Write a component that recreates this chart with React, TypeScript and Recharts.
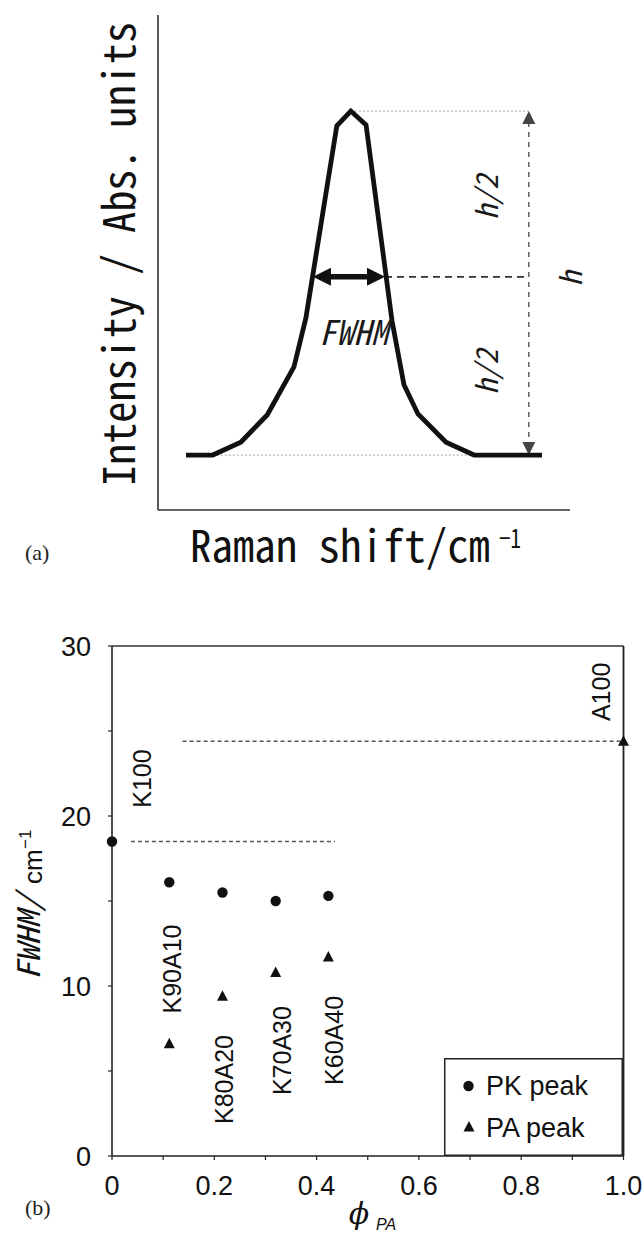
import React from 'react';
import {
  LineChart,
  Line,
  ScatterChart,
  Scatter,
  XAxis,
  YAxis,
  ReferenceLine,
  ReferenceDot,
  Legend,
  Customized,
} from 'recharts';

const MONO = '"Noto Sans Mono CJK JP", "DejaVu Sans Mono", monospace';
const SANS = '"Liberation Sans", Arial, Helvetica, sans-serif';
const SERIF = '"Liberation Serif", "Times New Roman", serif';
const GREEK = '"DejaVu Serif", "Liberation Serif", serif';

// ---------- (a) schematic Raman band, arbitrary units ----------
const ramanShift = [6.8, 13.3, 20.1, 26.5, 33.0, 35.9, 43.4, 46.8, 50.5, 56.8, 59.7, 63.1, 69.9, 76.7, 93.2];
const intensity = [11.1, 11.1, 13.7, 19.2, 28.9, 38.8, 77.6, 80.6, 77.8, 38.2, 25.3, 19.4, 13.7, 11.1, 11.1];

const shiftDomain = [0, 100];
const intensityDomain = [0, 100];
const bandBaseline = 11.1;
const bandPeak = 80.6;
const bandPeakShift = 46.8;
const halfHeightLevel = 47.1;
const fwhmEdges = [37.6, 55.1];
const heightMarkerShift = 90.0;
const baselineGuide = [13.3, 76.7];

// annotation anchors (shift, intensity)
const fwhmTextAnchor = [39.1, 33.3];
const halfLabelShift = 79.4;
const halfLabelLevels = [63.2, 27.9];
const heightLabelAnchor = [99.8, 46.7];

const bandData = ramanShift.map((x, i) => ({ x, y: intensity[i] }));

// ---------- (b) FWHM versus PA volume fraction ----------
const sampleNames = ['K100', 'K90A10', 'K80A20', 'K70A30', 'K60A40', 'A100'];
const phiPA = [0, 0.112, 0.216, 0.32, 0.423, 1.0];
const pkPeakFwhm = [18.5, 16.1, 15.5, 15.0, 15.3]; // K100 … K60A40
const paPeakFwhm = [6.6, 9.4, 10.8, 11.7, 24.4]; // K90A10 … A100

const labelPhi = [0.058, 0.118, 0.219, 0.333, 0.434, 0.956];
const labelFwhm = [22.2, 11.0, 4.5, 6.2, 6.8, 27.3];

const k100Level = 18.5;
const k100GuideRange = [0.037, 0.436];
const a100Level = 24.4;
const a100GuideRange = [0.138, 1.0];

const phiTicks = [0, 0.1, 0.2, 0.3, 0.4, 0.5, 0.6, 0.7, 0.8, 0.9, 1.0];
const fwhmTicks = [0, 5, 10, 15, 20, 25, 30];
const legendOrder = ['PK peak', 'PA peak'];

const pkData = pkPeakFwhm.map((y, i) => ({ x: phiPA[i], y }));
const paData = paPeakFwhm.map((y, i) => ({ x: phiPA[i + 1], y }));
const sampleLabelData = sampleNames.map((name, i) => ({ x: labelPhi[i], y: labelFwhm[i], name }));

// ---------- shapes ----------
function DoubleArrow(props: any) {
  const { x1, y1, x2, y2, stroke, strokeWidth, strokeDasharray, headLength, headWidth, headFill } = props;
  const dx = x2 - x1;
  const dy = y2 - y1;
  const len = Math.hypot(dx, dy) || 1;
  const ux = dx / len;
  const uy = dy / len;
  const px = -uy;
  const py = ux;
  const head = (tx: number, ty: number, dir: number) => {
    const bx = tx - dir * ux * headLength;
    const by = ty - dir * uy * headLength;
    return `${tx},${ty} ${bx + px * headWidth},${by + py * headWidth} ${bx - px * headWidth},${by - py * headWidth}`;
  };
  const inset = headLength * 0.85;
  return (
    <g>
      <line
        x1={x1 + ux * inset}
        y1={y1 + uy * inset}
        x2={x2 - ux * inset}
        y2={y2 - uy * inset}
        stroke={stroke}
        strokeWidth={strokeWidth}
        strokeDasharray={strokeDasharray}
      />
      <polygon points={head(x1, y1, -1)} fill={headFill} />
      <polygon points={head(x2, y2, 1)} fill={headFill} />
    </g>
  );
}

function rotatedLabel(text: string, fontSize: number, family: string, italic: boolean, textLength?: number) {
  return (p: any) => (
    <text
      x={p.cx}
      y={p.cy}
      transform={`rotate(-90 ${p.cx} ${p.cy})`}
      textAnchor="middle"
      dominantBaseline="central"
      fontSize={fontSize}
      fontFamily={family}
      fontStyle={italic ? 'italic' : 'normal'}
      fill="#1a1a1a"
      textLength={textLength}
      lengthAdjust="spacingAndGlyphs"
    >
      {text}
    </text>
  );
}

const PkDot = (p: any) => <circle cx={p.cx} cy={p.cy} r={5.2} fill="#111" />;
const PaTriangle = (p: any) => (
  <polygon points={`${p.cx},${p.cy - 6} ${p.cx - 5.5},${p.cy + 4.5} ${p.cx + 5.5},${p.cy + 4.5}`} fill="#111" />
);
const SampleLabel = (p: any) => (
  <text
    x={p.cx}
    y={p.cy}
    transform={`rotate(-90 ${p.cx} ${p.cy})`}
    textAnchor="middle"
    dominantBaseline="central"
    fontSize={25}
    fontFamily={SANS}
    fill="#111"
  >
    {p.payload.name}
  </text>
);

const PanelATitles = () => (
  <g>
    <text
      x={135}
      y={254}
      transform="rotate(-90 135 254)"
      textAnchor="middle"
      fontSize={44}
      fontFamily={MONO}
      fill="#111"
      textLength={464}
      lengthAdjust="spacingAndGlyphs"
    >
      Intensity / Abs. units
    </text>
    <text x={190} y={562} fontSize={44} fontFamily={MONO} fill="#111" textLength={300} lengthAdjust="spacingAndGlyphs">
      Raman shift/cm
    </text>
    <text x={499} y={548} fontSize={27} fontFamily={MONO} fill="#111" textLength={22} lengthAdjust="spacingAndGlyphs">
      −1
    </text>
    <text x={25} y={560} fontSize={22} fontFamily={SERIF} fill="#222">
      (a)
    </text>
  </g>
);

const PanelBTitles = () => (
  <g>
    <text
      x={40}
      y={360}
      transform="rotate(-90 40 360)"
      fontSize={31}
      fontFamily={MONO}
      fontStyle="italic"
      fill="#111"
      textLength={86}
      lengthAdjust="spacingAndGlyphs"
    >
      FWHM/
    </text>
    <text x={41.5} y={264} transform="rotate(-90 41.5 264)" fontSize={26} fontFamily={SANS} fill="#111">
      cm
    </text>
    <text x={31} y={229} transform="rotate(-90 31 229)" fontSize={17} fontFamily={SANS} fill="#111">
      −1
    </text>
    <text x={359} y={604} textAnchor="middle" fontSize={30} fontFamily={GREEK} fontStyle="italic" fill="#111">
      ϕ
    </text>
    <text x={376} y={610} fontSize={16} fontFamily={SANS} fontStyle="italic" fill="#111">
      PA
    </text>
    <text x={25} y={595} fontSize={22} fontFamily={SERIF} fill="#222">
      (b)
    </text>
  </g>
);

const LegendBox = (props: any) => {
  const items = (props.payload || [])
    .filter((it: any) => it.type !== 'none')
    .sort((a: any, b: any) => legendOrder.indexOf(a.value) - legendOrder.indexOf(b.value));
  return (
    <svg width={179} height={98} style={{ display: 'block' }}>
      <rect x={0.75} y={0.75} width={177.5} height={96.5} fill="#fff" stroke="#222" strokeWidth={1.5} />
      {items.map((it: any, i: number) => {
        const cy = 27 + i * 42;
        return (
          <g key={it.value}>
            {it.type === 'triangle' ? (
              <polygon points={`25,${cy - 6} 19.5,${cy + 4.5} 30.5,${cy + 4.5}`} fill="#111" />
            ) : (
              <circle cx={24.5} cy={cy + 1} r={5.2} fill="#111" />
            )}
            <text x={42} y={cy + 9.5} fontSize={27} fontFamily={SANS} fill="#111">
              {it.value}
            </text>
          </g>
        );
      })}
    </svg>
  );
};

const axisLineStyle = { stroke: '#222', strokeWidth: 1.6 };

export default function App() {
  return (
    <div style={{ position: 'absolute', left: 0, top: 0, width: 642, height: 1236, background: '#fff' }}>
      <div style={{ position: 'absolute', left: 0, top: 0 }}>
        <LineChart width={642} height={620} data={bandData} margin={{ top: 15, right: 72, bottom: 110, left: 158 }}>
          <XAxis type="number" dataKey="x" domain={shiftDomain} hide />
          <YAxis type="number" domain={intensityDomain} hide />
          {/* plain axis lines along the left and bottom of the plot */}
          <ReferenceLine x={shiftDomain[0]} stroke="#333" strokeWidth={1.6} />
          <ReferenceLine y={intensityDomain[0]} stroke="#333" strokeWidth={1.6} />
          <ReferenceLine
            segment={[
              { x: bandPeakShift, y: bandPeak },
              { x: heightMarkerShift, y: bandPeak },
            ]}
            stroke="#b5b5b5"
            strokeWidth={1.2}
            strokeDasharray="2 2"
          />
          <ReferenceLine
            segment={[
              { x: baselineGuide[0], y: bandBaseline },
              { x: baselineGuide[1], y: bandBaseline },
            ]}
            stroke="#b5b5b5"
            strokeWidth={1.2}
            strokeDasharray="2 2"
          />
          <ReferenceLine
            segment={[
              { x: fwhmEdges[1], y: halfHeightLevel },
              { x: heightMarkerShift, y: halfHeightLevel },
            ]}
            stroke="#333"
            strokeWidth={1.6}
            strokeDasharray="7 5"
          />
          <ReferenceLine
            segment={[
              { x: heightMarkerShift, y: bandPeak },
              { x: heightMarkerShift, y: bandBaseline },
            ]}
            shape={(p: any) => (
              <DoubleArrow
                {...p}
                stroke="#666"
                strokeWidth={1.6}
                strokeDasharray="5 5"
                headLength={13}
                headWidth={6.5}
                headFill="#444"
              />
            )}
          />
          <Line
            type="linear"
            dataKey="y"
            stroke="#111"
            strokeWidth={4.8}
            dot={false}
            activeDot={false}
            isAnimationActive={false}
          />
          <ReferenceLine
            segment={[
              { x: fwhmEdges[0], y: halfHeightLevel },
              { x: fwhmEdges[1], y: halfHeightLevel },
            ]}
            shape={(p: any) => (
              <DoubleArrow {...p} stroke="#111" strokeWidth={5.5} headLength={18} headWidth={9} headFill="#111" />
            )}
          />
          <ReferenceDot
            x={fwhmTextAnchor[0]}
            y={fwhmTextAnchor[1]}
            r={0}
            shape={(p: any) => (
              <text
                x={p.cx}
                y={p.cy}
                fontSize={34}
                fontFamily={MONO}
                fontStyle="italic"
                fill="#1a1a1a"
                textLength={69}
                lengthAdjust="spacingAndGlyphs"
              >
                FWHM
              </text>
            )}
          />
          {halfLabelLevels.map((lv) => (
            <ReferenceDot
              key={lv}
              x={halfLabelShift}
              y={lv}
              r={0}
              shape={rotatedLabel('h/2', 30, MONO, true, 45)}
            />
          ))}
          <ReferenceDot
            x={heightLabelAnchor[0]}
            y={heightLabelAnchor[1]}
            r={0}
            shape={rotatedLabel('h', 30, MONO, true)}
          />
          <Customized component={PanelATitles} />
        </LineChart>
      </div>

      <div style={{ position: 'absolute', left: 0, top: 620 }}>
        <ScatterChart width={642} height={616} margin={{ top: 26, right: 18.5, bottom: 40, left: 12 }}>
          <XAxis
            type="number"
            dataKey="x"
            domain={[0, 1]}
            ticks={phiTicks}
            interval={0}
            tickFormatter={(v: number) =>
              Math.round(v * 10) % 2 === 0 ? (v === 0 ? '0' : v.toFixed(1)) : ''
            }
            height={40}
            tickSize={4}
            tickMargin={16}
            axisLine={axisLineStyle}
            tickLine={{ stroke: '#222', strokeWidth: 1.2 }}
            tick={{ fill: '#111', fontSize: 27, fontFamily: SANS }}
          />
          <YAxis
            type="number"
            dataKey="y"
            domain={[0, 30]}
            ticks={fwhmTicks}
            interval={0}
            tickFormatter={(v: number) => (v % 10 === 0 ? String(v) : '')}
            width={100}
            tickSize={4}
            tickMargin={17}
            axisLine={axisLineStyle}
            tickLine={{ stroke: '#222', strokeWidth: 1.2 }}
            tick={{ fill: '#111', fontSize: 27, fontFamily: SANS }}
          />
          <ReferenceLine y={30} stroke="#333" strokeWidth={1.6} />
          <ReferenceLine x={1} stroke="#222" strokeWidth={1.8} />
          <ReferenceLine
            segment={[
              { x: k100GuideRange[0], y: k100Level },
              { x: k100GuideRange[1], y: k100Level },
            ]}
            stroke="#555"
            strokeWidth={1.5}
            strokeDasharray="4 3"
          />
          <ReferenceLine
            segment={[
              { x: a100GuideRange[0], y: a100Level },
              { x: a100GuideRange[1], y: a100Level },
            ]}
            stroke="#555"
            strokeWidth={1.5}
            strokeDasharray="4 3"
          />
          <Scatter name="PK peak" data={pkData} shape={PkDot} legendType="circle" isAnimationActive={false} />
          <Scatter name="PA peak" data={paData} shape={PaTriangle} legendType="triangle" isAnimationActive={false} />
          <Scatter name="samples" data={sampleLabelData} shape={SampleLabel} legendType="none" isAnimationActive={false} />
          <Legend
            layout="vertical"
            align="center"
            verticalAlign="middle"
            content={LegendBox}
            wrapperStyle={{ left: 444, top: 438, width: 179, height: 98, margin: 0, padding: 0 }}
          />
          <Customized component={PanelBTitles} />
        </ScatterChart>
      </div>
    </div>
  );
}
